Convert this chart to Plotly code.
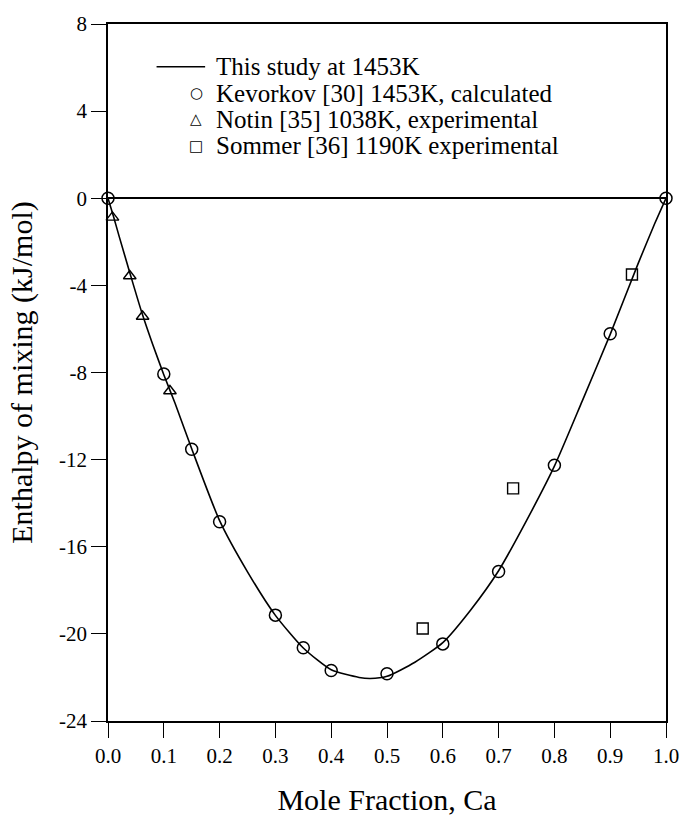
import plotly.graph_objects as go

# Calculated enthalpy of mixing curve (this study, 1453 K)
curve_x = [0.0, 0.01, 0.02, 0.04, 0.06, 0.08, 0.10, 0.12, 0.15, 0.20, 0.25, 0.30,
           0.35, 0.40, 0.45, 0.47, 0.50, 0.55, 0.60, 0.65, 0.70, 0.75, 0.80,
           0.85, 0.90, 0.95, 0.98, 1.0]
curve_y = [0.0, -0.85, -1.75, -3.5, -5.2, -6.7, -8.1, -9.4, -11.5, -14.8, -17.15, -19.15,
           -20.65, -21.65, -22.0, -22.05, -21.95, -21.3, -20.4, -18.9, -17.1, -14.8, -12.3,
           -9.3, -6.25, -3.0, -1.15, 0.0]

# Kevorkov [30], 1453 K, calculated
kev_x = [0.0, 0.10, 0.15, 0.20, 0.30, 0.35, 0.40, 0.50, 0.60, 0.70, 0.80, 0.90, 1.0]
kev_y = [0.0, -8.07, -11.52, -14.85, -19.14, -20.64, -21.68, -21.83, -20.46, -17.14, -12.26, -6.22, 0.0]

# Notin [35], 1038 K, experimental
notin_x = [0.008, 0.039, 0.062, 0.111]
notin_y = [-0.88, -3.57, -5.43, -8.85]

# Sommer [36], 1190 K, experimental
sommer_x = [0.564, 0.726, 0.939]
sommer_y = [-19.75, -13.32, -3.50]

x_ticks = [0.0, 0.1, 0.2, 0.3, 0.4, 0.5, 0.6, 0.7, 0.8, 0.9, 1.0]
x_ticktext = ["0.0", "0.1", "0.2", "0.3", "0.4", "0.5", "0.6", "0.7", "0.8", "0.9", "1.0"]
y_ticks = [-24, -20, -16, -12, -8, -4, 0, 4, 8]
y_ticktext = ["-24", "-20", "-16", "-12", "-8", "-4", "0", "4", "8"]

legend_labels = [
    "This study at 1453K",
    "Kevorkov [30] 1453K, calculated",
    "Notin [35] 1038K, experimental",
    "Sommer [36] 1190K experimental",
]
legend_keys = [None, "\u25cb", "\u25b3", "\u25a1"]

SERIF = "Liberation Serif, Times New Roman, serif"
W, H = 691, 823
M_L, M_R, M_T, M_B = 108, 20, 16, 90
PW, PH = W - M_L - M_R, H - M_T - M_B


def px_x(p):
    return (p - M_L) / PW


def px_y(p):
    return (H - M_B - p) / PH


fig = go.Figure()

fig.add_trace(go.Scatter(
    x=curve_x, y=curve_y, mode="lines", name=legend_labels[0],
    line=dict(color="black", width=1.6, shape="spline", smoothing=0.6),
    showlegend=False, hoverinfo="skip",
))
fig.add_trace(go.Scatter(
    x=kev_x, y=kev_y, mode="markers", name=legend_labels[1],
    marker=dict(symbol="circle-open", size=12, color="black", line=dict(width=1.5)),
    cliponaxis=False, showlegend=False,
))
fig.add_trace(go.Scatter(
    x=notin_x, y=notin_y, mode="markers", name=legend_labels[2],
    marker=dict(symbol="triangle-up-open", size=11, color="black", line=dict(width=1.4)),
    cliponaxis=False, showlegend=False,
))
fig.add_trace(go.Scatter(
    x=sommer_x, y=sommer_y, mode="markers", name=legend_labels[3],
    marker=dict(symbol="square-open", size=11, color="black", line=dict(width=1.4)),
    cliponaxis=False, showlegend=False,
))

# Legend block drawn as text inside the plot
row_px = [60, 87, 114, 141]
annotations = []
shapes = []
for label, key, ry in zip(legend_labels, legend_keys, row_px):
    annotations.append(dict(
        x=px_x(215), y=px_y(ry), xref="paper", yref="paper",
        text=label, showarrow=False, xanchor="left", yanchor="middle",
        font=dict(family=SERIF, size=25, color="black"),
    ))
    if key is None:
        shapes.append(dict(
            type="line", xref="paper", yref="paper",
            x0=px_x(157), x1=px_x(206), y0=px_y(ry), y1=px_y(ry),
            line=dict(color="black", width=1.6),
        ))
    else:
        annotations.append(dict(
            x=px_x(197), y=px_y(ry), xref="paper", yref="paper",
            text=key, showarrow=False, xanchor="center", yanchor="middle",
            font=dict(family="DejaVu Sans", size=15, color="black"),
        ))

axis_common = dict(
    showgrid=False, showline=True, linecolor="black", linewidth=1.6,
    mirror=True, ticks="outside", ticklen=15, tickwidth=1.4, tickcolor="black",
    tickfont=dict(family=SERIF, size=21, color="black"),
)

fig.update_layout(
    width=W, height=H,
    margin=dict(l=M_L, r=M_R, t=M_T, b=M_B),
    paper_bgcolor="white", plot_bgcolor="white",
    xaxis=dict(
        range=[0, 1], tickvals=x_ticks, ticktext=x_ticktext, zeroline=False,
        title=dict(text="Mole Fraction, Ca", font=dict(family=SERIF, size=30, color="black"),
                   standoff=22),
        **axis_common,
    ),
    yaxis=dict(
        range=[-24, 8], tickvals=y_ticks, ticktext=y_ticktext,
        zeroline=True, zerolinecolor="black", zerolinewidth=1.6,
        title=dict(text="Enthalpy of mixing (kJ/mol)", font=dict(family=SERIF, size=30, color="black"),
                   standoff=18),
        **axis_common,
    ),
    annotations=annotations,
    shapes=shapes,
    showlegend=False,
)

fig.write_html("out.html")
